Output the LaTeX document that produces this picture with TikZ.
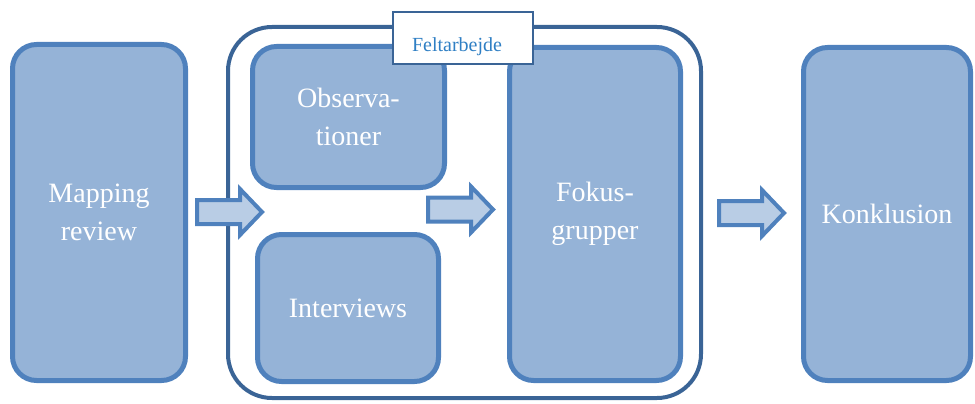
\documentclass[tikz,border=0pt]{standalone}
\usepackage{fontspec}
\setmainfont{Liberation Serif}
\definecolor{boxfill}{HTML}{95B3D7}
\definecolor{boxline}{HTML}{4F81BD}
\definecolor{darkline}{HTML}{3A6496}
\definecolor{arrowfill}{HTML}{B9CDE5}
\definecolor{labeltext}{HTML}{2F7FC4}
\begin{document}
\begin{tikzpicture}[x=1pt,y=-1pt,
  stagebox/.style={draw=boxline, fill=boxfill, line width=5pt, rounded corners=24pt,
    text=white, align=center, font=\fontsize{28}{38}\selectfont, inner sep=0pt},
  blockarrow/.style={draw=boxline, fill=arrowfill, line width=4pt, line join=miter},
  container/.style={draw=darkline, line width=4pt, rounded corners=44pt},
  tag/.style={draw=darkline, fill=white, line width=2pt, text=labeltext,
    font=\fontsize{20}{24}\selectfont, inner sep=0pt, text height=30pt, text depth=2pt}]
\useasboundingbox (0,0) rectangle (975,404);
\node[container, minimum width=473pt, minimum height=371pt] (feltarbejde) at (464.5,212.5) {};
\node[stagebox, minimum width=173pt, minimum height=336pt] (mapping) at (99,212.5) {Mapping\\review};
\node[stagebox, minimum width=192pt, minimum height=141pt] (obs) at (348.5,117) {Observa-\\tioner};
\node[stagebox, minimum width=181pt, minimum height=147pt] (int) at (348,308) {Interviews};
\node[stagebox, minimum width=171pt, minimum height=333pt] (fokus) at (595,214) {Fokus-\\grupper};
\node[stagebox, minimum width=167pt, minimum height=333pt] (konk) at (887,214) {Konklusion};
\node[tag, minimum width=140pt, minimum height=52pt] (tag) at (463,38) {Feltarbejde\hspace*{12pt}};
% block arrows
\draw[blockarrow] (197,200) -- (240,200) -- (240,189) -- (262,212) -- (240,235) -- (240,224) -- (197,224) -- cycle;
\draw[blockarrow] (428,197.5) -- (471,197.5) -- (471,186.5) -- (493,209.5) -- (471,232.5) -- (471,221.5) -- (428,221.5) -- cycle;
\draw[blockarrow] (719,201) -- (762,201) -- (762,190) -- (784,213) -- (762,236) -- (762,225) -- (719,225) -- cycle;
\end{tikzpicture}
\end{document}
